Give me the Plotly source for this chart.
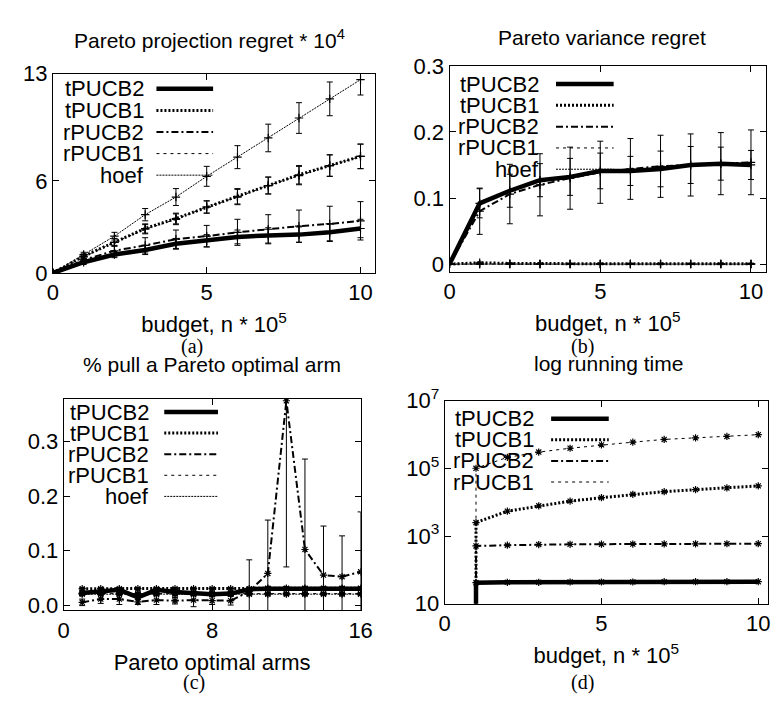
import plotly.graph_objects as go

W, H = 780, 705
FONT = "Liberation Sans"
SERIF = "Liberation Serif"

# ---------------- data ----------------
series_names = ["tPUCB2", "tPUCB1", "rPUCB2", "rPUCB1", "hoef"]

# (a) Pareto projection regret * 10^4
budget_a = [0, 1, 2, 3, 4, 5, 6, 7, 8, 9, 10]
tPUCB2_a = [0, 0.7, 1.2, 1.5, 1.9, 2.1, 2.35, 2.45, 2.5, 2.65, 2.9]
tPUCB2_a_err = [0, 0.15, 0.2, 0.3, 0.35, 0.4, 0.45, 0.5, 0.5, 0.55, 0.6]
tPUCB1_a = [0, 1.1, 2.0, 2.9, 3.55, 4.3, 5.0, 5.7, 6.4, 7.0, 7.6]
tPUCB1_a_err = [0, 0.15, 0.25, 0.3, 0.35, 0.4, 0.5, 0.55, 0.6, 0.7, 0.8]
rPUCB2_a = [0, 0.85, 1.45, 1.8, 2.2, 2.4, 2.65, 2.85, 3.05, 3.2, 3.4]
rPUCB2_a_err = [0, 0.2, 0.35, 0.5, 0.6, 0.7, 0.85, 0.95, 1.05, 1.15, 1.25]
rPUCB1_a = [0, 1.05, 2.0, 2.85, 3.5, 4.3, 4.95, 5.7, 6.35, 7.0, 7.6]
rPUCB1_a_err = [0, 0.15, 0.25, 0.3, 0.35, 0.4, 0.5, 0.55, 0.6, 0.7, 0.8]
hoef_a = [0, 1.2, 2.4, 3.8, 4.95, 6.3, 7.55, 8.8, 10.1, 11.35, 12.6]
hoef_a_err = [0, 0.15, 0.25, 0.4, 0.55, 0.65, 0.75, 0.9, 1.0, 1.1, 1.0]

# (b) Pareto variance regret
budget_b = [0, 1, 2, 3, 4, 5, 6, 7, 8, 9, 10]
tPUCB2_b = [0, 0.092, 0.111, 0.127, 0.132, 0.141, 0.141, 0.144, 0.150, 0.152, 0.150]
tPUCB2_b_err = [0, 0.022, 0.025, 0.025, 0.028, 0.027, 0.022, 0.027, 0.028, 0.025, 0.022]
tPUCB1_b = [0, 0.002, 0.001, 0.0005, 0.0005, 0.0005, 0.0005, 0.0005, 0.0005, 0.0005, 0.0005]
tPUCB1_b_err = [0, 0.001, 0.001, 0.001, 0.001, 0.001, 0.001, 0.001, 0.001, 0.001, 0.001]
rPUCB2_b = [0, 0.080, 0.106, 0.120, 0.130, 0.139, 0.144, 0.148, 0.150, 0.152, 0.154]
rPUCB2_b_err = [0, 0.035, 0.045, 0.047, 0.047, 0.047, 0.046, 0.047, 0.047, 0.047, 0.049]
rPUCB1_b = [0, 0, 0, 0, 0, 0, 0, 0, 0, 0, 0]
rPUCB1_b_err = [0, 0, 0, 0, 0, 0, 0, 0, 0, 0, 0]
hoef_b = [0, 0, 0, 0, 0, 0, 0, 0, 0, 0, 0]
hoef_b_err = [0, 0, 0, 0, 0, 0, 0, 0, 0, 0, 0]

# (c) % pull a Pareto optimal arm
arms_c = [1, 2, 3, 4, 5, 6, 7, 8, 9, 10, 11, 12, 13, 14, 15, 16]
tPUCB2_c = [0.022, 0.026, 0.028, 0.014, 0.028, 0.024, 0.021, 0.020, 0.021, 0.029, 0.030, 0.030, 0.030, 0.030, 0.030, 0.030]
tPUCB2_c_err = [0.004, 0.006, 0.004, 0.004, 0.004, 0.004, 0.004, 0.004, 0.004, 0.003, 0.003, 0.003, 0.003, 0.003, 0.003, 0.003]
tPUCB1_c = [0.030, 0.030, 0.030, 0.030, 0.030, 0.030, 0.030, 0.030, 0.030, 0.030, 0.031, 0.031, 0.031, 0.031, 0.031, 0.031]
tPUCB1_c_err = [0.002, 0.002, 0.002, 0.002, 0.002, 0.002, 0.002, 0.002, 0.002, 0.002, 0.002, 0.002, 0.002, 0.002, 0.002, 0.002]
rPUCB2_c = [0.005, 0.011, 0.011, 0.006, 0.009, 0.008, 0.009, 0.008, 0.008, 0.025, 0.058, 0.375, 0.102, 0.055, 0.052, 0.061]
rPUCB2_c_err = [0.006, 0.008, 0.010, 0.005, 0.008, 0.006, 0.012, 0.007, 0.008, 0.058, 0.098, 0.305, 0.166, 0.090, 0.075, 0.110]
rPUCB1_c = [0.021, 0.021, 0.021, 0.021, 0.021, 0.021, 0.021, 0.021, 0.021, 0.021, 0.021, 0.021, 0.021, 0.021, 0.021, 0.021]
rPUCB1_c_err = [0.002, 0.002, 0.002, 0.002, 0.002, 0.002, 0.002, 0.002, 0.002, 0.002, 0.002, 0.002, 0.002, 0.002, 0.002, 0.002]
hoef_c = [0.020, 0.020, 0.020, 0.020, 0.020, 0.020, 0.020, 0.020, 0.020, 0.020, 0.020, 0.020, 0.020, 0.020, 0.020, 0.020]
hoef_c_err = [0.002, 0.002, 0.002, 0.002, 0.002, 0.002, 0.002, 0.002, 0.002, 0.002, 0.002, 0.002, 0.002, 0.002, 0.002, 0.002]

# (d) log running time (first row: near-zero time at the first budget)
budget_d = [1, 1, 2, 3, 4, 5, 6, 7, 8, 9, 10]
tPUCB2_d = [1, 42, 43, 43, 44, 44, 44, 45, 45, 45, 45]
tPUCB1_d = [1, 2500, 5400, 7800, 10700, 13500, 17000, 20400, 23400, 26300, 30200]
rPUCB2_d = [1, 510, 535, 560, 570, 575, 580, 585, 590, 592, 595]
rPUCB1_d = [1, 100000, 210000, 300000, 390000, 490000, 590000, 710000, 790000, 870000, 980000]

# ---------------- styles ----------------
styles = {
    "tPUCB2": dict(width=4.5, dash="solid"),
    "tPUCB1": dict(width=3, dash="2px,2px"),
    "rPUCB2": dict(width=2, dash="7px,3px,2px,3px"),
    "rPUCB1": dict(width=1, dash="3px,4px"),
    "hoef": dict(width=1, dash="2px,1px"),
}


def fx(px):
    return px / W


def fy(py):
    return 1 - py / H


panels = {
    "a": dict(xa="x", ya="y", dom_x=(48, 378), dom_y=(60, 268)),
    "b": dict(xa="x2", ya="y2", dom_x=(454, 778), dom_y=(52, 267)),
    "c": dict(xa="x3", ya="y3", dom_x=(59, 363), dom_y=(399, 620)),
    "d": dict(xa="x4", ya="y4", dom_x=(449, 780), dom_y=(401, 613)),
}

data = {
    "a": (budget_a, [(tPUCB2_a, tPUCB2_a_err), (tPUCB1_a, tPUCB1_a_err), (rPUCB2_a, rPUCB2_a_err),
                     (rPUCB1_a, rPUCB1_a_err), (hoef_a, hoef_a_err)]),
    "b": (budget_b, [(tPUCB2_b, tPUCB2_b_err), (tPUCB1_b, tPUCB1_b_err), (rPUCB2_b, rPUCB2_b_err),
                     (rPUCB1_b, rPUCB1_b_err), (hoef_b, hoef_b_err)]),
    "c": (arms_c, [(tPUCB2_c, tPUCB2_c_err), (tPUCB1_c, tPUCB1_c_err), (rPUCB2_c, rPUCB2_c_err),
                   (rPUCB1_c, rPUCB1_c_err), (hoef_c, hoef_c_err)]),
    "d": (budget_d, [(tPUCB2_d, None), (tPUCB1_d, None), (rPUCB2_d, None), (rPUCB1_d, None)]),
}

fig = go.Figure()

for key, (xs, sers) in data.items():
    p = panels[key]
    sym = "cross-thin-open" if key in ("a", "b") else "asterisk-open"
    order = list(range(len(sers)))[::-1]
    for i in order:
        ys, err = sers[i]
        name = series_names[i]
        st = styles[name]
        tr = dict(
            x=xs, y=ys, mode="lines+markers", name=name, showlegend=False,
            line=dict(color="black", width=st["width"], dash=st["dash"]),
            marker=dict(symbol=sym, size=6, color="black", line=dict(color="black", width=1.2)),
            xaxis=p["xa"], yaxis=p["ya"], cliponaxis=True,
        )
        if err is not None:
            tr["error_y"] = dict(type="data", array=err, visible=True, color="black",
                                 thickness=1, width=3)
        fig.add_trace(go.Scatter(**tr))

tickfont = dict(family=FONT, size=22, color="black")
axis_common = dict(showline=True, linecolor="black", linewidth=1, mirror="ticks",
                   ticks="inside", ticklen=6, tickcolor="black", showgrid=False,
                   zeroline=False, tickfont=tickfont)

layout_axes = {}


def set_axes(key, xname, yname, xcfg, ycfg):
    p = panels[key]
    x0, x1 = p["dom_x"]
    y0, y1 = p["dom_y"]
    xd = dict(axis_common, domain=[fx(x0), fx(x1)], anchor=p["ya"], **xcfg)
    yd = dict(axis_common, domain=[fy(y1), fy(y0)], anchor=p["xa"], **ycfg)
    layout_axes[xname] = xd
    layout_axes[yname] = yd


xtitle_font = dict(family=FONT, size=22, color="black")

set_axes("a", "xaxis", "yaxis",
         dict(range=[0, 10.48], tickvals=[0, 5, 10],
              title=dict(text="budget, n * 10<sup>5</sup>", font=xtitle_font, standoff=12)),
         dict(range=[0, 13], tickvals=[0, 6, 13]))
set_axes("b", "xaxis2", "yaxis2",
         dict(range=[0, 10.5], tickvals=[0, 5, 10],
              title=dict(text="budget, n * 10<sup>5</sup>", font=xtitle_font, standoff=12)),
         dict(range=[-0.012, 0.3], tickvals=[0, 0.1, 0.2, 0.3], ticktext=["0", "0.1", "0.2", "0.3"]))
set_axes("c", "xaxis3", "yaxis3",
         dict(range=[0, 16], tickvals=[0, 8, 16],
              title=dict(text="Pareto optimal arms", font=xtitle_font, standoff=12)),
         dict(range=[-0.01, 0.379], tickvals=[0, 0.1, 0.2, 0.3], ticktext=["0.0", "0.1", "0.2", "0.3"]))
set_axes("d", "xaxis4", "yaxis4",
         dict(range=[0, 10.31], tickvals=[0, 5, 10],
              title=dict(text="budget, n * 10<sup>5</sup>", font=xtitle_font, standoff=12)),
         dict(type="log", range=[1, 7], tickvals=[10, 1e3, 1e5, 1e7],
              ticktext=["10", "10<sup>3</sup>", "10<sup>5</sup>", "10<sup>7</sup>"]))

annotations = []
shapes = []

# panel titles
titles = [
    ("Pareto projection regret * 10<sup>4</sup>", 208, 24),
    ("Pareto variance regret", 610, 22),
    ("% pull a Pareto optimal arm", 211, 363),
    ("log running time", 617, 362),
]
for text, cx, cy in titles:
    annotations.append(dict(text=text, x=fx(cx), y=fy(cy), xref="paper", yref="paper",
                            xanchor="center", yanchor="middle", showarrow=False,
                            font=dict(family=FONT, size=21, color="black")))

# captions
captions = [("(a)", 190, 345), ("(b)", 590, 345), ("(c)", 192, 695), ("(d)", 590, 695)]
for text, cx, cy in captions:
    annotations.append(dict(text=text, x=fx(cx), y=fy(cy), xref="paper", yref="paper",
                            xanchor="center", yanchor="middle", showarrow=False,
                            font=dict(family=SERIF, size=20, color="black")))

# keys (gnuplot style: label right-aligned, line sample to the right)
keys = {
    "a": dict(text_right=143, s0=154, s1=212, y0=76, step=22.5, n=5),
    "b": dict(text_right=548, s0=563, s1=622, y0=71, step=22.2, n=5),
    "c": dict(text_right=148, s0=162, s1=217, y0=413, step=22, n=5),
    "d": dict(text_right=543, s0=558, s1=617, y0=420, step=22, n=4),
}
for key, k in keys.items():
    for i in range(k["n"]):
        name = series_names[i]
        st = styles[name]
        ry = k["y0"] + i * k["step"]
        annotations.append(dict(text=name, x=fx(k["text_right"]), y=fy(ry), xref="paper", yref="paper",
                                xanchor="right", yanchor="middle", showarrow=False,
                                font=dict(family=FONT, size=22, color="black")))
        shapes.append(dict(type="line", xref="paper", yref="paper",
                           x0=fx(k["s0"]), x1=fx(k["s1"]), y0=fy(ry), y1=fy(ry),
                           line=dict(color="black", width=st["width"], dash=st["dash"])))

fig.update_layout(
    width=W, height=H,
    margin=dict(l=0, r=0, t=0, b=0),
    paper_bgcolor="white", plot_bgcolor="white",
    font=dict(family=FONT, color="black"),
    annotations=annotations, shapes=shapes,
    showlegend=False,
    **layout_axes,
)

fig.write_html("out.html")
